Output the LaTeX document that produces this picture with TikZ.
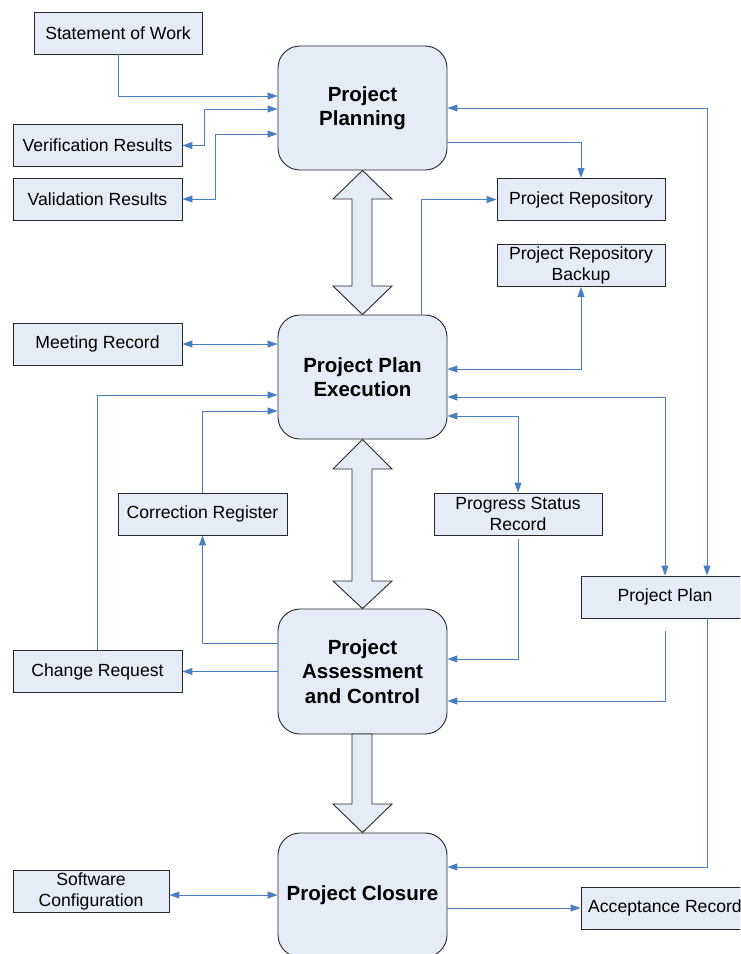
\documentclass[tikz,border=0pt]{standalone}
\usepackage{fontspec}
\setmainfont{Liberation Sans}
\usetikzlibrary{arrows.meta}
\definecolor{boxfill}{RGB}{230,236,247}
\definecolor{conncol}{RGB}{74,126,195}
\definecolor{edgecol}{RGB}{40,40,40}
\tikzset{
  docbox/.style={draw=edgecol,line width=0.9pt,fill=boxfill,rectangle,inner sep=0pt,
    minimum width=168pt,minimum height=42pt,align=center,
    font=\fontsize{17.6}{21}\selectfont},
  phase/.style={draw=edgecol,line width=0.9pt,fill=boxfill,rectangle,rounded corners=22pt,
    inner sep=0pt,minimum width=169pt,minimum height=124pt,align=center,
    font=\fontsize{20.5}{24.5}\selectfont\bfseries},
  conn/.style={draw=conncol,line width=1pt},
  bigarrow/.style={draw=edgecol,line width=0.9pt,fill=boxfill,line join=miter},
  >={Triangle[length=10pt,width=7pt]}
}
\begin{document}
\begin{tikzpicture}[x=1pt,y=-1pt]
\useasboundingbox (0,0) rectangle (740,954);
\clip (0,0) rectangle (740,954);
\fill[white] (0,0) rectangle (740,954);

% phase boxes
\node[phase] (pp) at (362.5,108) {Project\\Planning};
\node[phase] (ppe) at (362.5,377) {Project Plan\\Execution};
\node[phase,minimum height=125pt] (pac) at (362.5,671.5) {Project\\Assessment\\and Control};
\node[phase] (pc) at (362.5,895) {Project Closure};

% document boxes
\node[docbox] (sow) at (118,33) {Statement of Work};
\node[docbox,minimum width=169pt] (ver) at (97.5,145.5) {Verification Results};
\node[docbox,minimum width=169pt] (val) at (97.5,199) {Validation Results};
\node[docbox] (repo) at (581,199.5) {Project Repository};
\node[docbox] (backup) at (581,265.5) {Project Repository\\Backup};
\node[docbox,minimum width=169pt] (meet) at (97.5,344) {Meeting Record};
\node[docbox,minimum width=169pt] (corr) at (202.5,514) {Correction Register};
\node[docbox] (prog) at (518,514) {Progress Status\\Record};
\node[docbox] (plan) at (665,597) {Project Plan};
\node[docbox,minimum width=169pt] (cr) at (97.5,671.5) {Change Request};
\node[docbox,minimum width=156pt] (sc) at (91,891.5) {Software\\Configuration};
\node[docbox] (acc) at (665,908) {Acceptance Record};

% big arrows
\draw[bigarrow] (pp.south) -- (392,199) -- (372,199) -- (372,286) -- (392,286) -- (ppe.north)
  -- (333,286) -- (352,286) -- (352,199) -- (333,199) -- cycle;
\draw[bigarrow] (ppe.south) -- (392,469) -- (372,469) -- (372,581) -- (392,581) -- (pac.north)
  -- (333,581) -- (352,581) -- (352,469) -- (333,469) -- cycle;
\draw[bigarrow] (352,734) -- (372,734) -- (372,804) -- (392,804) -- (pc.north)
  -- (333,804) -- (352,804) -- cycle;

% connectors
\draw[conn,->] (sow.south) |- ([yshift=12pt]pp.west);
\draw[conn,<->] (ver.east) -- ++(22,0) |- ([yshift=-1pt]pp.west);
\draw[conn,<->] (val.east) -- ++(33,0) |- ([yshift=-26pt]pp.west);
\draw[conn,<->] (pp.east) -| ([xshift=42pt]plan.north);
\draw[conn,->] ([yshift=-34pt]pp.east) -| (repo.north);
\draw[conn,->] ([xshift=58.5pt]ppe.north) |- (repo.west);
\draw[conn,<->] ([yshift=8pt]ppe.east) -| (backup.south);
\draw[conn,<->] ([yshift=-20pt]ppe.east) -| (plan.north);
\draw[conn,<->] ([yshift=-39pt]ppe.east) -| (prog.north);
\draw[conn,<->] (meet.east) -- (meet.east -| ppe.west);
\draw[conn,->] (cr.north) |- ([yshift=-18pt]ppe.west);
\draw[conn,->] (corr.north) |- ([yshift=-34pt]ppe.west);
\draw[conn,->] ([yshift=28.5pt]pac.west) -| (corr.south);
\draw[conn,->] (pac.west) -- (cr.east);
\draw[conn,->] ([yshift=-4pt]prog.south) |- ([yshift=12.5pt]pac.east);
\draw[conn,->] ([yshift=-13pt]plan.south) |- ([yshift=-29.5pt]pac.east);
\draw[conn,->] ([xshift=42pt]plan.south) |- ([yshift=28pt]pc.east);
\draw[conn,<->] (sc.east |- pc.west) -- (pc.west);
\draw[conn,->] (pc.east |- acc.west) -- (acc.west);
\end{tikzpicture}
\end{document}
